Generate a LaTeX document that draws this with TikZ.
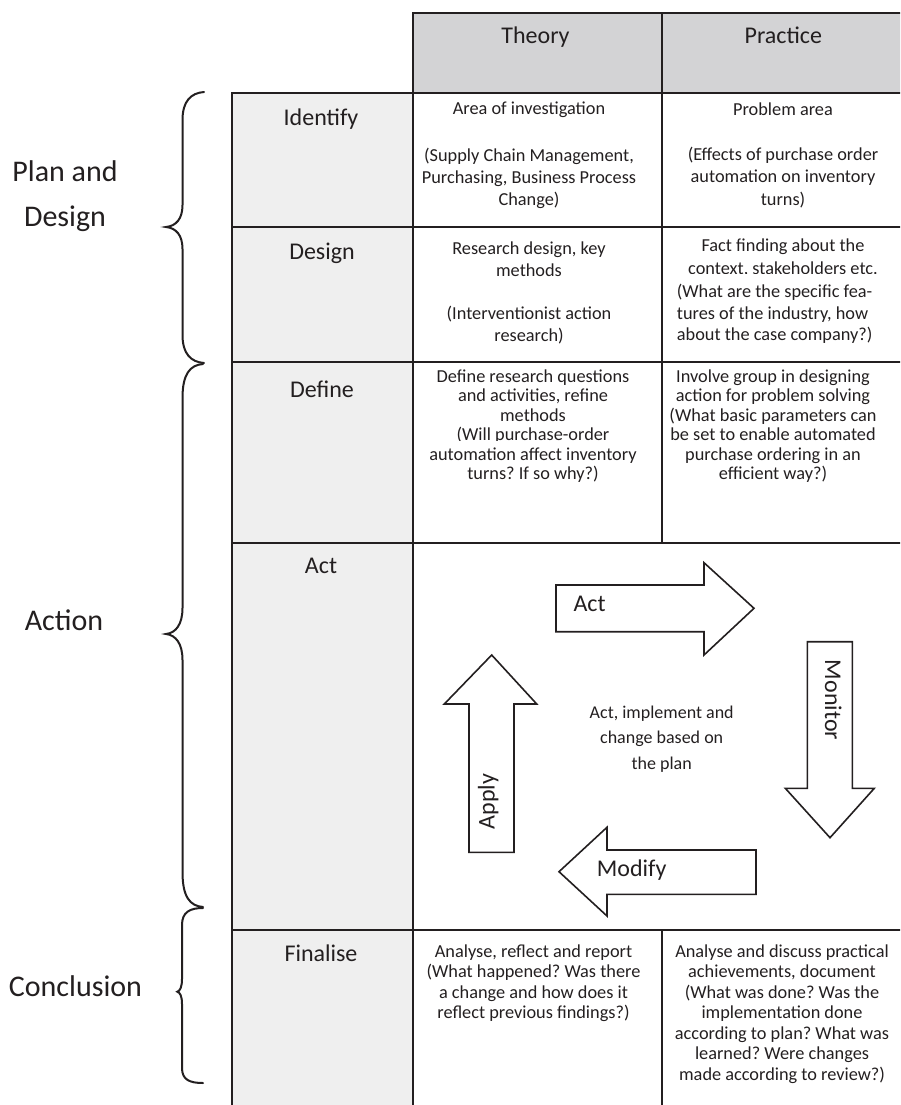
\documentclass[tikz,border=0pt]{standalone}
\usepackage{fontspec}
\setmainfont{Carlito}
\frenchspacing
\definecolor{ink}{HTML}{231F20}
\definecolor{headfill}{HTML}{D3D3D5}
\definecolor{sidefill}{HTML}{EFEFEF}
\begin{document}
\begin{tikzpicture}[x=1pt,y=-1pt,
  rule/.style={line width=2pt, draw=ink},
  bracepath/.style={line width=2pt, draw=ink, line cap=round},
  arrowbox/.style={line width=1.6pt, draw=ink, fill=white, line join=miter},
  cell/.style={font=\fontsize{18.3}{22}\selectfont, align=center, inner sep=0pt, anchor=base, text=ink},
  lead/.style={font=\fontsize{18.3}{#1}\selectfont},
  heading/.style={font=\fontsize{24}{28}\selectfont, inner sep=0pt, anchor=base, text=ink},
  phase/.style={font=\fontsize{30}{45}\selectfont, align=center, inner sep=0pt, anchor=base, text=ink}]
\useasboundingbox (0,0) rectangle (900,1105);
\clip (0,0) rectangle (900,1105);

% background fills of the header row and the stage column
\fill[headfill] (413,13) rectangle (906,93);
\fill[sidefill] (232,93) rectangle (413,1107);

% table rules
\draw[rule] (906,13) -- (413,13) -- (413,1107);
\draw[rule] (232,1107) -- (232,93) -- (906,93);
\draw[rule] (232,227) -- (906,227);
\draw[rule] (232,362) -- (906,362);
\draw[rule] (232,542.5) -- (906,542.5);
\draw[rule] (232,930) -- (906,930);
\draw[rule] (662,13) -- (662,542.5);
\draw[rule] (662,930) -- (662,1107);

% column headings
\node[heading] (hT) at (535.5,44) {Theory};
\node[heading] (hP) at (783.3,44) {Practice};

% stage names
\node[heading] (sId) at (321,125) {Identify};
\node[heading] (sDs) at (322,259) {Design};
\node[heading] (sDf) at (322,397) {Define};
\node[heading] (sAc) at (321,573.3) {Act};
\node[heading] (sFi) at (321,961) {Finalise};

% Identify row (multi-line texts are placed by their last baseline)
\node[cell] (idT1) at (529,115) {Area of investigation};
\node[cell] (idT2) at (529,205.7) {(Supply Chain Management,\\Purchasing, Business Process\\Change)};
\node[cell] (idP1) at (783,115.5) {Problem area};
\node[cell, lead=22.5] (idP2) at (783,205) {(Effects of purchase order\\automation on inventory\\turns)};

% Design row
\begin{scope}
  \clip (414,228) rectangle (661,276);
  \node[cell] (dsT1) at (529,276) {Research design, key\\methods};
\end{scope}
\node[cell] (dsT2) at (529,341.5) {(Interventionist action\\research)};
\begin{scope}
  \clip (663,228) rectangle (900,273.5);
  \node[cell, lead=22.3] (dsP1) at (783,274) {Fact finding about the\\context, stakeholders etc.};
\end{scope}
\node[cell, lead=21.7, align=left, anchor=base west] (dsP2) at (676.7,340.7) {(What are the specific fea-\\tures of the industry, how\\about the case company?)};

% Define row
\begin{scope}
  \clip (414,363) rectangle (661,440);
  \node[cell, lead=19.5] (dfT1) at (533,440.5) {Define research questions\\and activities, refine\\methods\\(Will purchase-order};
\end{scope}
\node[cell, lead=19.5] (dfT2) at (533,479.5) {automation affect inventory\\turns? If so why?)};
\begin{scope}
  \clip (663,363) rectangle (900,440);
  \node[cell, lead=19.5] (dfP1) at (773,440.5) {Involve group in designing\\action for problem solving\\(What basic parameters can\\be set to enable automated};
\end{scope}
\node[cell, lead=19.5] (dfP2) at (773,479.5) {purchase ordering in an\\efficient way?)};

% Act row: the cycle of block arrows
\draw[arrowbox] (556,585) -- (704,585) -- (704,562.7) -- (754,608.3) -- (704,655) -- (704,631.7) -- (556,631.7) -- cycle;
\draw[arrowbox] (807.3,641.7) -- (852.3,641.7) -- (852.3,788.3) -- (874.3,788.3) -- (830,837.7) -- (785.3,788.3) -- (807.3,788.3) -- cycle;
\draw[arrowbox] (756,850) -- (607,850) -- (607,827.3) -- (559,871.7) -- (607,916) -- (607,894.3) -- (756,894.3) -- cycle;
\draw[arrowbox] (469,852.3) -- (469,704) -- (444.3,704) -- (491.7,655) -- (536.7,704) -- (514,704) -- (514,852.3) -- cycle;
\node[heading, anchor=base west] (aAct) at (573.3,611) {Act};
\node[heading, rotate=-90] (aMon) at (825,700) {Monitor};
\node[heading, anchor=base west] (aMod) at (596.7,876) {Modify};
\node[heading, rotate=90] (aApp) at (494.5,801.7) {Apply};
\node[cell, font=\fontsize{18}{25.5}\selectfont] (aMid) at (661.7,769.3) {Act, implement and\\change based on\\the plan};

% Finalise row
\node[cell, lead=20.5] (fiT) at (533.5,1018.5) {Analyse, reflect and report\\(What happened? Was there\\a change and how does it\\reflect previous findings?)};
\node[cell, lead=20.5] (fiP) at (782,1080) {Analyse and discuss practical\\achievements, document\\(What was done? Was the\\implementation done\\according to plan? What was\\learned? Were changes\\made according to review?)};

% phase braces
\draw[bracepath] (204,92) .. controls (191,93) and (182.5,101) .. (182.5,120) -- (182.5,205)
  .. controls (182.5,219) and (176,226) .. (166,227) .. controls (176,228) and (182.5,235) .. (182.5,249)
  -- (182.5,335) .. controls (182.5,354) and (191,362) .. (204,363);
\draw[bracepath] (203,364) .. controls (190,365) and (182.5,374) .. (182.5,398) -- (182.5,608)
  .. controls (182.5,624) and (176,633) .. (166,634) .. controls (176,635) and (182.5,644) .. (182.5,660)
  -- (182.5,872) .. controls (182.5,897) and (190,906) .. (203,907);
\draw[bracepath] (203,908) .. controls (190,908) and (182,912) .. (182,925) -- (182,979)
  .. controls (182,987) and (180,991) .. (177.3,991.7) .. controls (180,992.5) and (182,996) .. (182,1004)
  -- (182,1068) .. controls (182,1080) and (190,1083) .. (203,1083);

% phase names
\node[phase] (pPlan) at (65,226.7) {Plan and\\Design};
\node[phase] (pAct) at (64,630.7) {Action};
\node[phase] (pCon) at (75.5,996.7) {Conclusion};
\end{tikzpicture}
\end{document}
